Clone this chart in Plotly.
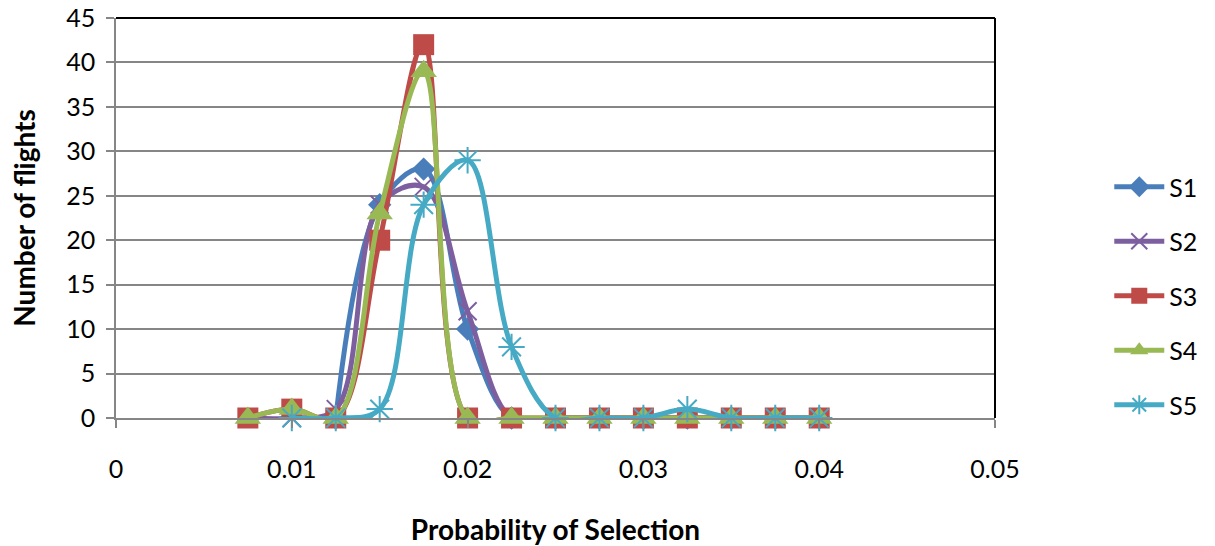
import plotly.graph_objects as go

x_all = [0.0075, 0.01, 0.0125, 0.015, 0.0175, 0.02, 0.0225, 0.025, 0.0275, 0.03, 0.0325, 0.035, 0.0375, 0.04]
x_s1 = x_all[2:]
x_s5 = x_all[1:]

s1 = [0, 24, 28, 10, 0, 0, 0, 0, 0, 0, 0, 0]
s2 = [0, 0, 1, 24, 26, 12, 0, 0, 0, 0, 0, 0, 0, 0]
s3 = [0, 1, 0, 20, 42, 0, 0, 0, 0, 0, 0, 0, 0, 0]
s4 = [0, 1, 0, 23, 39, 0, 0, 0, 0, 0, 0, 0, 0, 0]
s5 = [0, 0, 1, 24, 29, 8, 0, 0, 0, 1, 0, 0, 0]

x_ticks = [0, 0.01, 0.02, 0.03, 0.04, 0.05]
x_ticklabels = ["0", "0.01", "0.02", "0.03", "0.04", "0.05"]
y_ticks = [0, 5, 10, 15, 20, 25, 30, 35, 40, 45]

FONT = "Lato"

series = [
    ("S1", x_s1, s1, "#4A7EBB", dict(symbol="diamond", size=18)),
    ("S2", x_all, s2, "#7D5FA0", dict(symbol="x-thin-open", size=18, line=dict(width=2, color="#7D5FA0"))),
    ("S3", x_all, s3, "#BE4B48", dict(symbol="square", size=21)),
    ("S4", x_all, s4, "#98B954", dict(symbol="triangle-up", size=23)),
    ("S5", x_s5, s5, "#46AAC5", dict(symbol="asterisk-open", size=22, line=dict(width=2, color="#46AAC5"))),
]

fig = go.Figure()
for name, xs, ys, col, mk in series:
    mk = dict(mk)
    mk["color"] = col
    fig.add_trace(go.Scatter(
        x=xs, y=ys, name=name, mode="lines+markers",
        line=dict(color=col, width=5, shape="spline", smoothing=1.0),
        marker=mk, legendgroup=name, cliponaxis=False,
    ))

grid = "#868686"
fig.update_layout(
    width=1215, height=546,
    margin=dict(l=116, r=218, t=18, b=128),
    paper_bgcolor="white", plot_bgcolor="white",
    font=dict(family=FONT, size=25, color="black"),
    showlegend=True,
    legend=dict(x=1.13, y=0.305, xanchor="left", yanchor="middle",
                traceorder="grouped", tracegroupgap=19, itemwidth=50,
                font=dict(size=25, family=FONT), bgcolor="rgba(0,0,0,0)"),
    xaxis=dict(range=[0, 0.05], tickvals=x_ticks, ticktext=x_ticklabels,
               showgrid=False, zeroline=False, showline=True, linecolor=grid, linewidth=1.5,
               ticks="outside", ticklen=8, tickcolor=grid, tickwidth=1.5,
               ticklabelstandoff=20, automargin=False,
               tickfont=dict(size=25, family=FONT),
               title=dict(text="<b>Probability of Selection</b>", standoff=40,
                          font=dict(size=28, family=FONT))),
    yaxis=dict(range=[0, 45], tickvals=y_ticks,
               showgrid=True, gridcolor=grid, gridwidth=1.5,
               zeroline=False, showline=True, linecolor=grid, linewidth=1.5,
               ticks="outside", ticklen=8, tickcolor=grid, tickwidth=1.5,
               ticklabelstandoff=6, automargin=False,
               tickfont=dict(size=25, family=FONT),
               title=dict(text="<b>Number of flights</b>", standoff=22,
                          font=dict(size=28, family=FONT))),
    shapes=[
        dict(type="line", xref="paper", yref="paper", x0=0, x1=1, y0=1, y1=1,
             line=dict(color="black", width=2)),
        dict(type="line", xref="paper", yref="paper", x0=1, x1=1, y0=0, y1=1,
             line=dict(color="black", width=2)),
    ],
)

fig.write_html("out.html")
